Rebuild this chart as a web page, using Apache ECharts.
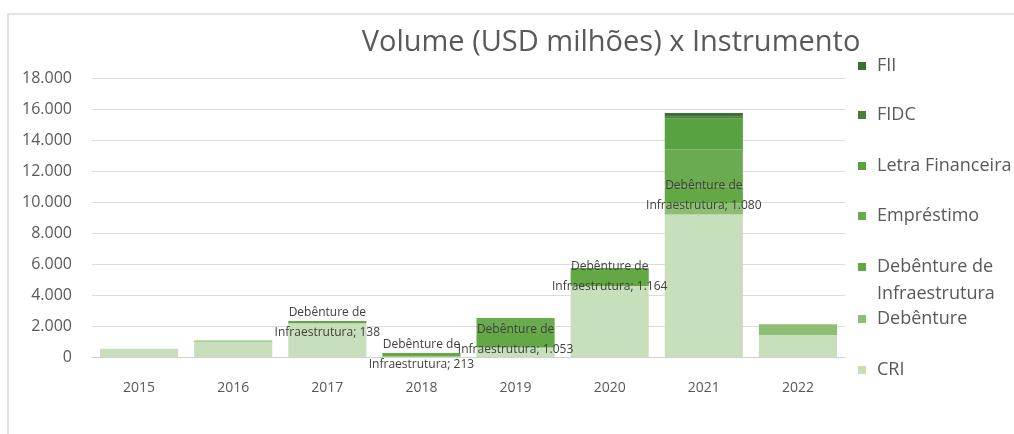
<!DOCTYPE html>
<html>
<head>
<meta charset="utf-8">
<script src="https://cdn.jsdelivr.net/npm/echarts@6/dist/echarts.min.js"></script>
<style>
  html, body { margin: 0; padding: 0; background: #ffffff; }
  #chart { width: 1014px; height: 434px; }
</style>
</head>
<body>
<div id="chart"></div>
<script>
// ---- data ----
const years = ['2015', '2016', '2017', '2018', '2019', '2020', '2021', '2022'];
const seriesNames = ['CRI', 'Debênture', 'Debênture de Infraestrutura', 'Empréstimo', 'Letra Financeira', 'FIDC', 'FII'];
const cri          = [540, 980, 2180, 40, 620, 4576, 9200, 1420];
const debenture    = [0, 90, 0, 0, 0, 0, 700, 700];
const debInfra     = [0, 0, 138, 213, 1053, 1164, 1080, 0];
const emprestimo   = [0, 0, 0, 0, 840, 0, 2410, 0];
const letraFin     = [0, 0, 0, 0, 0, 0, 2000, 0];
const fidc         = [0, 0, 0, 0, 0, 0, 150, 0];
const fii          = [0, 0, 0, 0, 0, 0, 200, 0];
const yTicks = [0, 2000, 4000, 6000, 8000, 10000, 12000, 14000, 16000, 18000];

const seriesData = [cri, debenture, debInfra, emprestimo, letraFin, fidc, fii];
const colors = ['#c8dfbb', '#8cbf74', '#63a845', '#6bab50', '#58a242', '#467e3a', '#3a7131'];

function fmt(v) {
  return String(Math.round(v)).replace(/\B(?=(\d{3})+(?!\d))/g, '.');
}

const chart = echarts.init(document.getElementById('chart'));

const series = seriesNames.map((name, i) => {
  const s = {
    name: name,
    type: 'bar',
    stack: 'total',
    barCategoryGap: '17%',
    itemStyle: { color: colors[i] },
    data: seriesData[i].map(v => (v === 0 ? null : v)),
    emphasis: { disabled: true }
  };
  if (name === 'Debênture de Infraestrutura') {
    s.label = {
      show: true,
      position: 'inside',
      color: '#404040',
      fontFamily: 'Open Sans',
      fontSize: 12,
      lineHeight: 20,
      formatter: p => 'Debênture de\nInfraestrutura; ' + fmt(p.value)
    };
  }
  return s;
});

// legend positions (top to bottom as in the reference)
const legendOrder = ['FII', 'FIDC', 'Letra Financeira', 'Empréstimo', 'Debênture de Infraestrutura', 'Debênture', 'CRI'];
const legendTops = [57, 106, 157, 207, 258, 310, 361];
const legends = legendOrder.map((name, i) => {
  const lg = {
    data: [name],
    left: 858,
    top: legendTops[i],
    padding: 0,
    orient: 'vertical',
    itemWidth: 8,
    itemHeight: 8,
    icon: 'rect',
    selectedMode: false,
    textStyle: { color: '#595959', fontSize: 18, fontFamily: 'Open Sans', padding: [0, 0, 0, 6] }
  };
  if (name === 'Debênture de Infraestrutura') {
    lg.formatter = () => 'Debênture de';
  }
  return lg;
});

chart.setOption({
  animation: false,
  backgroundColor: '#ffffff',
  title: {
    text: 'Volume (USD milhões) x Instrumento',
    left: 606,
    textAlign: 'center',
    top: 23,
    textStyle: { color: '#595959', fontSize: 29, fontWeight: 'normal', fontFamily: 'Open Sans' }
  },
  legend: legends,
  grid: { left: 92, right: 169, top: 78, bottom: 77 },
  xAxis: {
    type: 'category',
    data: years,
    axisLine: { show: true, lineStyle: { color: '#d0d0d0', width: 1 } },
    axisTick: { show: false },
    axisLabel: { color: '#595959', fontSize: 14, fontFamily: 'Open Sans', margin: 24 }
  },
  yAxis: {
    type: 'value',
    min: yTicks[0],
    max: yTicks[yTicks.length - 1],
    interval: yTicks[1] - yTicks[0],
    axisLine: { show: false },
    axisTick: { show: false },
    splitLine: { lineStyle: { color: '#dcdcdc', width: 1 } },
    axisLabel: { color: '#595959', fontSize: 16, fontFamily: 'Open Sans', margin: 20, formatter: v => fmt(v) }
  },
  graphic: [{
    type: 'rect',
    shape: { x: 8, y: 14, width: 1100, height: 500 },
    style: { fill: 'none', stroke: '#d9d9d9', lineWidth: 1.5 },
    silent: true,
    z: -10
  }, {
    type: 'text',
    left: 877,
    top: 285,
    silent: true,
    style: { text: 'Infraestrutura', fill: '#595959', font: '18px "Open Sans"' }
  }],
  series: series
});
</script>
</body>
</html>
